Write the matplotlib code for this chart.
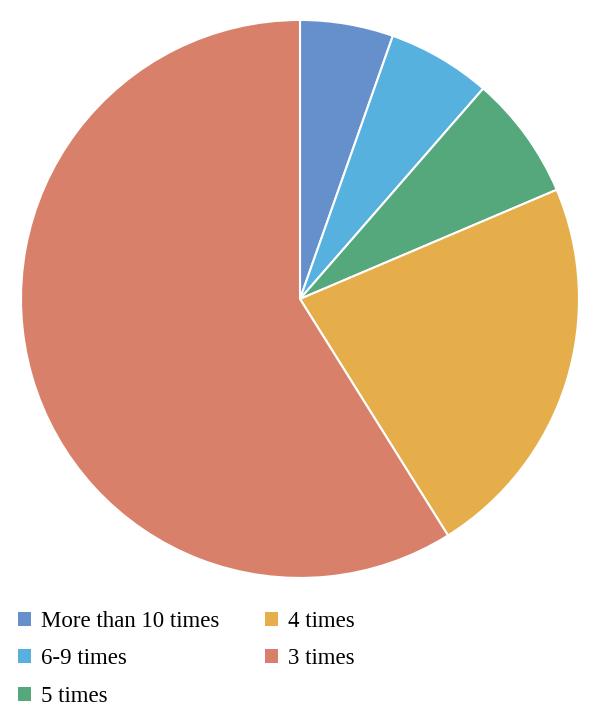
import matplotlib.pyplot as plt
from matplotlib.patches import Patch

labels = ["More than 10 times", "6-9 times", "5 times", "4 times", "3 times"]
shares = [5.4, 6.0, 7.2, 22.5, 58.9]
colors = ["#6690cb", "#56b1df", "#55a77c", "#e5ae4b", "#d8806a"]

fig = plt.figure(figsize=(6, 7.25), dpi=100)
ax = fig.add_axes([0.035, 0.2028, 0.93, 0.7697])

ax.pie(shares, colors=colors, startangle=90, counterclock=False,
       wedgeprops=dict(edgecolor="white", linewidth=1.5))
ax.set_xlim(-1, 1)
ax.set_ylim(-1, 1)
ax.set_aspect("equal")

handles = [Patch(facecolor=c, edgecolor="none") for c in colors]
fig.legend(handles, labels, loc="upper left", bbox_to_anchor=(-0.004, 0.186),
           ncol=2, frameon=False, handlelength=0.55, handleheight=0.55,
           handletextpad=0.45, columnspacing=2.0, labelspacing=0.72,
           prop={"family": "Liberation Serif", "size": 16.5})

fig.savefig("out.png", dpi=100)
